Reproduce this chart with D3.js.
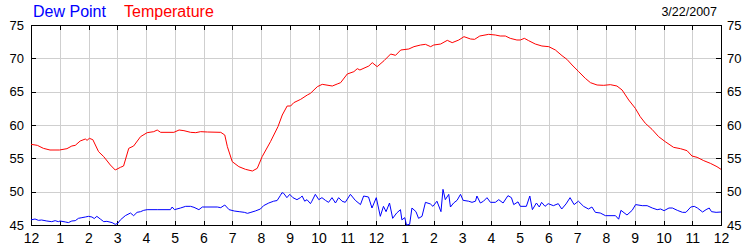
<!DOCTYPE html>
<html lang="en">
<head>
<meta charset="UTF-8" />
<title>Dew Point / Temperature 3/22/2007</title>
<script src="https://cdn.jsdelivr.net/npm/d3@7"></script>
<style>
  body { margin: 0; background: #fff; }
  svg { display: block; font-family: "Liberation Sans", Arial, sans-serif; }
  .axis text { fill: #000; }
  .axis line { stroke: #000; }
  .grid line { stroke: #cfcfcf; }
</style>
</head>
<body>
<div id="chart"></div>
<script>
// hour labels along the bottom (midnight to midnight)
const hourLabels = ["12","1","2","3","4","5","6","7","8","9","10","11","12",
                    "1","2","3","4","5","6","7","8","9","10","11","12"];
const yTicks = [45, 50, 55, 60, 65, 70, 75];
const dateLabel = "3/22/2007";
const seriesNames = ["Dew Point", "Temperature"];

// [hour, deg F]
const temperature = [
  [0.00,57.1],[0.22,56.95],[0.43,56.5],[0.66,56.25],[0.99,56.25],[1.25,56.45],
  [1.42,56.85],[1.54,56.95],[1.71,57.6],[1.89,57.9],[1.95,57.7],[2.03,58.0],
  [2.15,57.8],[2.35,56.0],[2.53,55.25],[2.76,54.0],[2.93,53.25],[3.11,53.65],
  [3.22,53.85],[3.40,56.5],[3.57,56.85],[3.81,58.25],[4.04,58.85],[4.27,59.0],
  [4.39,59.25],[4.51,58.9],[4.97,58.9],[5.15,59.25],[5.32,59.15],[5.55,58.9],
  [5.73,58.85],[5.90,59.0],[6.14,58.95],[6.60,58.9],[6.74,58.5],[6.83,56.75],
  [7.00,54.5],[7.23,53.75],[7.46,53.35],[7.70,53.1],[7.87,53.5],[8.04,55.25],
  [8.33,57.5],[8.59,59.75],[8.74,61.5],[8.91,62.85],[9.03,62.85],[9.14,63.35],
  [9.38,63.85],[9.61,64.5],[9.72,64.75],[9.96,65.75],[10.13,66.1],[10.48,65.85],
  [10.65,66.15],[10.77,66.35],[11.00,67.65],[11.23,68.0],[11.35,68.45],[11.44,68.25],
  [11.75,68.85],[11.87,69.35],[12.04,68.75],[12.28,69.65],[12.51,70.65],[12.68,70.45],
  [12.86,71.25],[13.14,71.4],[13.32,71.75],[13.55,72.0],[13.72,72.1],[13.90,71.75],
  [14.01,72.0],[14.25,72.15],[14.48,72.7],[14.65,72.35],[14.88,72.75],[15.06,73.25],
  [15.29,72.9],[15.43,72.85],[15.61,73.35],[15.92,73.6],[16.15,73.5],[16.32,73.35],
  [16.50,73.35],[16.67,73.0],[16.90,72.75],[17.02,72.75],[17.16,73.0],[17.31,72.65],
  [17.54,72.15],[17.77,71.85],[18.01,71.75],[18.24,71.25],[18.47,70.4],[18.64,69.85],
  [18.82,69.0],[19.05,68.0],[19.28,67.0],[19.46,66.35],[19.69,66.0],[19.92,65.95],
  [20.15,66.05],[20.38,65.85],[20.56,65.25],[20.79,63.75],[21.02,62.5],[21.19,61.25],
  [21.37,60.25],[21.60,59.35],[21.83,58.25],[22.06,57.5],[22.35,56.65],[22.59,56.45],
  [22.82,56.15],[22.99,55.35],[23.17,55.15],[23.40,54.65],[23.63,54.25],[23.86,53.75],
  [24.00,53.35]
];

// [hour, deg F]
const dewPoint = [
  [0.00,45.77],[0.14,45.9],[0.26,45.7],[0.37,45.75],[0.55,45.6],[0.72,45.5],
  [0.84,45.65],[0.95,45.5],[1.01,45.6],[1.19,45.46],[1.30,45.36],[1.42,45.6],
  [1.54,45.65],[1.65,46.0],[1.77,46.1],[1.89,46.2],[2.00,46.3],[2.12,46.2],
  [2.20,45.97],[2.29,46.3],[2.41,45.9],[2.53,45.5],[2.64,45.55],[2.82,45.36],
  [2.93,45.1],[3.02,45.25],[3.11,45.77],[3.28,46.4],[3.46,46.8],[3.57,46.4],
  [3.69,46.9],[3.81,47.0],[3.92,47.2],[4.04,47.3],[4.39,47.3],[4.85,47.3],
  [4.91,47.7],[4.99,47.3],[5.20,47.55],[5.38,47.8],[5.55,47.8],[5.67,47.65],
  [5.84,47.3],[5.96,47.7],[6.48,47.7],[6.60,47.6],[6.74,48.0],[6.89,47.3],
  [7.07,47.1],[7.24,47.0],[7.42,46.9],[7.53,46.75],[7.65,46.9],[7.80,47.1],
  [7.98,47.4],[8.09,47.9],[8.27,48.3],[8.44,48.57],[8.56,48.67],[8.67,49.4],
  [8.73,49.85],[8.79,49.75],[8.90,49.1],[9.00,49.6],[9.11,49.1],[9.25,48.8],
  [9.37,49.1],[9.43,49.35],[9.52,48.57],[9.60,48.8],[9.72,48.2],[9.77,48.57],
  [9.89,49.6],[10.01,48.8],[10.12,49.1],[10.24,48.7],[10.35,48.4],[10.47,49.1],
  [10.59,48.3],[10.70,49.1],[10.82,48.57],[10.93,48.4],[11.11,49.6],[11.28,48.7],
  [11.46,48.06],[11.57,49.35],[11.74,49.2],[11.86,47.55],[12.01,49.1],[12.15,46.3],
  [12.26,47.8],[12.35,47.0],[12.47,48.3],[12.58,46.0],[12.72,46.8],[12.85,47.3],
  [12.90,45.77],[13.00,46.1],[13.06,45.0],[13.17,45.1],[13.25,47.55],[13.39,47.0],
  [13.48,46.0],[13.60,46.3],[13.72,48.4],[13.89,48.16],[13.98,47.8],[14.12,48.57],
  [14.26,47.0],[14.33,50.35],[14.41,48.8],[14.53,49.6],[14.59,47.7],[14.70,48.3],
  [14.82,48.7],[14.94,49.6],[15.03,48.7],[15.22,48.57],[15.34,48.4],[15.46,48.57],
  [15.51,49.35],[15.63,48.3],[15.74,48.57],[15.86,49.1],[15.98,48.4],[16.15,48.4],
  [16.27,48.8],[16.42,48.3],[16.59,49.4],[16.71,49.1],[16.79,48.06],[16.94,48.47],
  [17.02,47.8],[17.23,47.8],[17.35,49.35],[17.44,47.3],[17.58,48.3],[17.68,47.7],
  [17.76,48.4],[17.88,47.8],[17.99,48.2],[18.17,47.9],[18.34,48.2],[18.46,47.4],
  [18.61,48.16],[18.75,49.1],[18.89,48.06],[19.04,48.57],[19.22,47.8],[19.39,47.4],
  [19.51,47.7],[19.63,46.9],[19.80,46.8],[19.98,46.4],[20.33,46.4],[20.44,45.87],
  [20.52,47.2],[20.73,46.5],[20.91,47.2],[21.03,48.06],[21.26,47.9],[21.43,47.9],
  [21.61,47.55],[21.78,47.3],[21.90,47.4],[22.02,47.15],[22.19,47.55],[22.31,47.55],
  [22.48,47.2],[22.66,46.9],[22.78,46.9],[22.95,47.7],[23.07,47.8],[23.18,47.55],
  [23.36,46.95],[23.48,47.3],[23.59,47.55],[23.67,47.0],[23.83,46.9],[24.00,46.95]
];

const width = 750;
const height = 250;
const plotLeft = 31, plotRight = 721, plotTop = 25, plotBottom = 225;

const svg = d3
  .select("#chart")
  .append("svg")
  .attr("width", width)
  .attr("height", height)
  .attr("viewBox", [0, 0, width, height]);

const x = d3.scaleLinear().domain([0, 24]).range([plotLeft, plotRight]);
const y = d3.scaleLinear().domain([45, 75]).range([plotBottom, plotTop]);
const hours = d3.range(0, 25);

// grid
svg.append("g")
  .attr("class", "grid")
  .attr("transform", `translate(0,${plotBottom})`)
  .attr("shape-rendering", "crispEdges")
  .call(d3.axisBottom(x).tickValues(hours.slice(1, -1)).tickSize(-(plotBottom - plotTop)).tickFormat(""))
  .call((g) => g.select(".domain").remove());

svg.append("g")
  .attr("class", "grid")
  .attr("transform", `translate(${plotLeft},0)`)
  .attr("shape-rendering", "crispEdges")
  .call(d3.axisLeft(y).tickValues(yTicks.slice(1, -1)).tickSize(-(plotRight - plotLeft)).tickFormat(""))
  .call((g) => g.select(".domain").remove());

// axes with inward ticks
svg.append("g")
  .attr("class", "axis")
  .attr("transform", `translate(0,${plotTop})`)
  .attr("shape-rendering", "crispEdges")
  .call(d3.axisTop(x).tickValues(hours).tickSize(-5).tickFormat(""))
  .call((g) => g.select(".domain").remove());

svg.append("g")
  .attr("class", "axis")
  .attr("transform", `translate(0,${plotBottom})`)
  .attr("shape-rendering", "crispEdges")
  .call(d3.axisBottom(x).tickValues(hours).tickSize(-4).tickPadding(8)
    .tickFormat((d) => hourLabels[d]))
  .call((g) => g.select(".domain").remove())
  .call((g) => g.selectAll("text").attr("font-size", 14).attr("font-family", null));

svg.append("g")
  .attr("class", "axis")
  .attr("transform", `translate(${plotLeft},0)`)
  .attr("shape-rendering", "crispEdges")
  .call(d3.axisLeft(y).tickValues(yTicks).tickSize(-5).tickPadding(7))
  .call((g) => g.select(".domain").remove())
  .call((g) => g.selectAll("text").attr("font-size", 13).attr("font-family", null));

svg.append("g")
  .attr("class", "axis")
  .attr("transform", `translate(${plotRight},0)`)
  .attr("shape-rendering", "crispEdges")
  .call(d3.axisRight(y).tickValues(yTicks).tickSize(-5).tickPadding(6))
  .call((g) => g.select(".domain").remove())
  .call((g) => g.selectAll("text").attr("font-size", 13).attr("font-family", null));

// frame
svg.append("rect")
  .attr("x", plotLeft)
  .attr("y", plotTop)
  .attr("width", plotRight - plotLeft)
  .attr("height", plotBottom - plotTop)
  .attr("fill", "none")
  .attr("stroke", "#000")
  .attr("shape-rendering", "crispEdges");

// series
const line = d3.line()
  .x((d) => x(d[0]))
  .y((d) => y(d[1]));

svg.append("path")
  .datum(dewPoint)
  .attr("fill", "none")
  .attr("stroke", "#0000ff")
  .attr("stroke-width", 1)
  .attr("d", line);

svg.append("path")
  .datum(temperature)
  .attr("fill", "none")
  .attr("stroke", "#ff0000")
  .attr("stroke-width", 1)
  .attr("d", line);

// legend / title
svg.append("text")
  .attr("x", 33)
  .attr("y", 17)
  .attr("font-size", 16)
  .attr("fill", "#0000ff")
  .text(seriesNames[0]);

svg.append("text")
  .attr("x", 124)
  .attr("y", 17)
  .attr("font-size", 16)
  .attr("fill", "#ff0000")
  .text(seriesNames[1]);

svg.append("text")
  .attr("x", 717)
  .attr("y", 16)
  .attr("text-anchor", "end")
  .attr("font-size", 12.5)
  .attr("fill", "#000")
  .text(dateLabel);
</script>
</body>
</html>
